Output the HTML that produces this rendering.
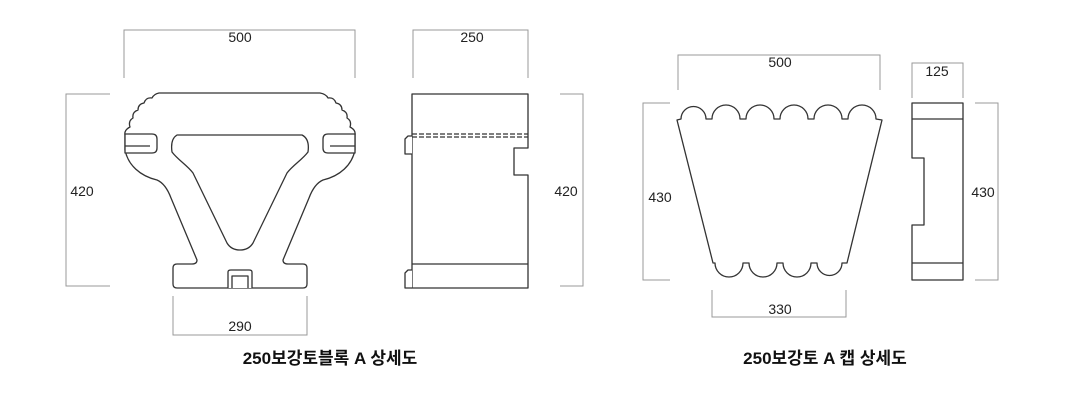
<!DOCTYPE html>
<html><head><meta charset="utf-8"><style>
body{margin:0;background:#fff;width:1090px;height:400px;overflow:hidden}
svg{display:block}
.d{fill:none;stroke:#999;stroke-width:1}
.s{fill:#fff;stroke:#333;stroke-width:1.3;stroke-linejoin:round}
.t{font-family:"Liberation Sans",sans-serif;font-size:14px;fill:#222}
.h{font-family:"Liberation Sans","Noto Sans CJK KR",sans-serif;font-size:17px;font-weight:bold;fill:#111}
</style></head><body>
<svg width="1090" height="400" viewBox="0 0 1090 400">
<path class="d" d="M124 78V30H355V78"/><text class="t" x="240" y="42" text-anchor="middle">500</text>
<path class="d" d="M413 78V30H528V78"/><text class="t" x="472" y="42" text-anchor="middle">250</text>
<path class="d" d="M110 94H66V286H110"/><text class="t" x="82" y="196" text-anchor="middle">420</text>
<path class="d" d="M560 94H583V286H560"/><text class="t" x="566" y="196" text-anchor="middle">420</text>
<path class="d" d="M173 296V335H307V296"/><text class="t" x="240" y="331" text-anchor="middle">290</text>
<!-- block front -->
<path class="s" d="M159 93H320 Q326 94 328 98 Q334 97 336 103 Q342 104 342 110 Q348 112 347 118 Q352 121 350 127 Q356 130 355 135 V150 C352 165 340 176 323 180 C316 183 312 190 309 198 L283 260 C283 263 285 264 288 264 H303 Q307 264 307 268 V284 Q307 288 303 288 H177 Q173 288 173 284 V268 Q173 264 177 264 H192 C195 264 197 263 197 260 L171 198 C168 190 164 183 157 180 C140 176 128 165 125 150 V135 Q124 130 130 127 Q128 121 133 118 Q132 112 138 110 Q138 104 144 103 Q146 97 152 98 Q154 94 159 93Z"/>
<path class="s" d="M177 135H302 C308 138 309 145 308 152 C302 160 293 165 287 173 L253 243 C250 248 245 250 240 250 C235 250 230 248 227 243 L193 173 C187 165 178 160 172 152 C171 145 172 138 177 135Z"/>
<path class="s" d="M125 134H152 Q157 134 157 139V148 Q157 153 152 153H125Z M125 146H150"/>
<path class="s" d="M355 134H328 Q323 134 323 139V148 Q323 153 328 153H355Z M355 146H330"/>
<path class="s" d="M228 288V272 Q228 270 231 270 H249 Q252 270 252 272 V288 M232 288V276H248V288"/>
<!-- block side -->
<path class="s" d="M412 94H528V148H514V175H528V288H412Z"/>
<path class="s" d="M412 136H408L405 139V154H412 M412 270H408L405 273V288H412"/>
<path d="M412 134H528M412 137H528" stroke="#333" stroke-width="1.2" stroke-dasharray="5,2" fill="none"/>
<path d="M412 264H528" stroke="#333" stroke-width="1.3"/>
<!-- cap dimensions -->
<path class="d" d="M678 90V55H880V90"/><text class="t" x="780" y="67" text-anchor="middle">500</text>
<path class="d" d="M912 98V63H963V98"/><text class="t" x="937" y="76" text-anchor="middle">125</text>
<path class="d" d="M670 103H643V280H670"/><text class="t" x="660" y="202" text-anchor="middle">430</text>
<path class="d" d="M975 103H998V280H975"/><text class="t" x="983" y="197" text-anchor="middle">430</text>
<path class="d" d="M712 290V317H846V290"/><text class="t" x="780" y="314" text-anchor="middle">330</text>
<!-- cap front -->
<path class="s" d="M677 120 L681 119 A12.5 12.5 0 1 1 706 119 H712 A12.5 12.5 0 1 1 740 119 H746 A12.5 12.5 0 1 1 774 119 H780 A12.5 12.5 0 1 1 808 119 H814 A12.5 12.5 0 1 1 842 119 H848 A12.5 12.5 0 1 1 876 119 L882 120 L847 263 H842 A12.5 12.5 0 1 1 817 263 H811 A12.5 12.5 0 1 1 783 263 H777 A12.5 12.5 0 1 1 749 263 H743 A12.5 12.5 0 1 1 715 263 H713Z"/>
<!-- cap side -->
<path class="s" d="M912 103H963V280H912V225H924V158H912Z"/>
<path d="M912 119H963M912 263H963" stroke="#333" stroke-width="1.3"/>
<text class="h" x="330" y="364" text-anchor="middle">250보강토블록 A 상세도</text>
<text class="h" x="825" y="364" text-anchor="middle">250보강토 A 캡 상세도</text>
</svg>
</body></html>
